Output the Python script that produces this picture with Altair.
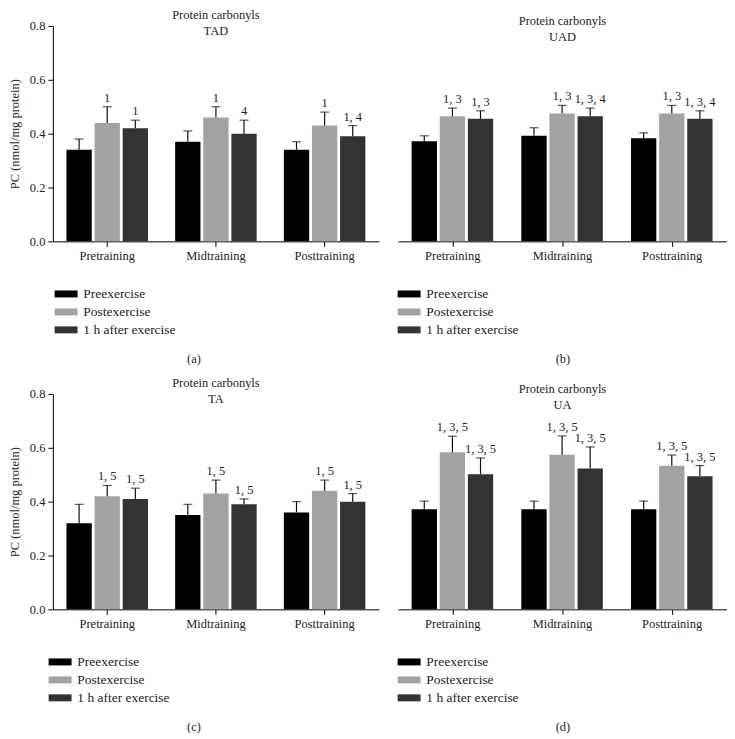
import altair as alt
import pandas as pd

periods = ["Pretraining", "Midtraining", "Posttraining"]
conditions = ["Preexercise", "Postexercise", "1 h after exercise"]
colors = ["#000000", "#a2a2a5", "#333333"]

# Panel (a) TAD
tad_pre = [0.34, 0.37, 0.34]
tad_post = [0.44, 0.46, 0.43]
tad_1h = [0.42, 0.40, 0.39]
tad_pre_err = [0.04, 0.04, 0.03]
tad_post_err = [0.06, 0.04, 0.05]
tad_1h_err = [0.03, 0.05, 0.04]
tad_post_lab = ["1", "1", "1"]
tad_1h_lab = ["1", "4", "1, 4"]

# Panel (b) UAD
uad_pre = [0.372, 0.392, 0.383]
uad_post = [0.465, 0.475, 0.475]
uad_1h = [0.455, 0.465, 0.455]
uad_pre_err = [0.02, 0.03, 0.02]
uad_post_err = [0.03, 0.03, 0.03]
uad_1h_err = [0.03, 0.03, 0.03]
uad_post_lab = ["1, 3", "1, 3", "1, 3"]
uad_1h_lab = ["1, 3", "1, 3, 4", "1, 3, 4"]

# Panel (c) TA
ta_pre = [0.32, 0.35, 0.36]
ta_post = [0.42, 0.43, 0.44]
ta_1h = [0.41, 0.39, 0.40]
ta_pre_err = [0.07, 0.04, 0.04]
ta_post_err = [0.04, 0.05, 0.04]
ta_1h_err = [0.04, 0.02, 0.03]
ta_post_lab = ["1, 5", "1, 5", "1, 5"]
ta_1h_lab = ["1, 5", "1, 5", "1, 5"]

# Panel (d) UA
ua_pre = [0.372, 0.372, 0.372]
ua_post = [0.583, 0.574, 0.533]
ua_1h = [0.502, 0.523, 0.494]
ua_pre_err = [0.03, 0.03, 0.03]
ua_post_err = [0.06, 0.07, 0.04]
ua_1h_err = [0.06, 0.08, 0.04]
ua_post_lab = ["1, 3, 5", "1, 3, 5", "1, 3, 5"]
ua_1h_lab = ["1, 3, 5", "1, 3, 5", "1, 3, 5"]

pre_lab = ["", "", ""]
y_ticks = [0.0, 0.2, 0.4, 0.6, 0.8]

FONT = "Liberation Serif"
INK = "#222222"


def build_df(means, errs, labels):
    rows = []
    for ci, c in enumerate(conditions):
        for pi, p in enumerate(periods):
            m = means[ci][pi]
            e = errs[ci][pi]
            rows.append(dict(period=p, condition=c, mean=m, top=m + e,
                             sig=labels[ci][pi]))
    return pd.DataFrame(rows)


def make_panel(df, subtitle, caption, left, width, legend_x):
    xaxis_kw = dict(title=caption, labelAngle=0, labelFont=FONT, labelFontSize=12.5,
                    labelColor=INK, tickSize=5, tickColor="#000", domainColor="#000",
                    domainWidth=1, labelPadding=3, titleFont=FONT, titleFontSize=12.5,
                    titleFontWeight="normal", titleColor=INK, titlePadding=91,
                    titleAlign="center")
    if left:
        xaxis_kw["titleX"] = 141
    x = alt.X("period:N", sort=periods,
              scale=alt.Scale(paddingInner=0.25, paddingOuter=0.125),
              axis=alt.Axis(**xaxis_kw))
    xo = alt.XOffset("condition:N", sort=conditions,
                     scale=alt.Scale(paddingInner=0.1, paddingOuter=0))
    yscale = alt.Scale(domain=[0, 0.8])
    if left:
        yaxis = alt.Axis(values=y_ticks, format=".1f", title="PC (nmol/mg protein)",
                         grid=False, tickSize=5, tickColor="#000", domainColor="#000",
                         labelFont=FONT, labelFontSize=12.5, labelColor=INK,
                         labelPadding=3, titleFont=FONT, titleFontSize=12.5,
                         titleFontWeight="normal", titleColor=INK, titlePadding=8)
    else:
        yaxis = None
    color = alt.Color("condition:N", sort=conditions,
                      scale=alt.Scale(domain=conditions, range=colors),
                      legend=alt.Legend(orient="none", legendX=legend_x, legendY=262,
                                        title=None, symbolType="M-1,-0.7H3.6V0.7H-1Z",
                                        symbolSize=100, symbolStrokeWidth=0,
                                        labelFont=FONT, labelFontSize=13.5,
                                        labelColor=INK, labelOffset=17, rowPadding=3))
    base = alt.Chart(df)
    bars = base.mark_bar().encode(
        x=x, xOffset=xo, y=alt.Y("mean:Q", scale=yscale, axis=yaxis), color=color)
    rule = base.mark_rule(color="#111", strokeWidth=1.2).encode(
        x=x, xOffset=xo, y=alt.Y("mean:Q", scale=yscale, axis=yaxis), y2="top:Q")
    cap = base.mark_tick(color="#111", thickness=1.2, size=9).encode(
        x=x, xOffset=xo, y=alt.Y("top:Q", scale=yscale, axis=yaxis))
    txt = base.mark_text(font=FONT, fontSize=12.5, baseline="bottom", dy=-2,
                         fill=INK, color=INK).encode(
        x=x, xOffset=xo, y=alt.Y("top:Q", scale=yscale, axis=yaxis), text="sig:N",
        fill=alt.value(INK))
    return alt.layer(bars, rule, cap, txt).properties(
        width=width, height=216,
        title=alt.TitleParams(["Protein carbonyls", subtitle], font=FONT,
                              fontSize=12.5, fontWeight="normal", color=INK,
                              anchor="middle", frame="group", offset=-18,
                              lineHeight=16))


df_a = build_df([tad_pre, tad_post, tad_1h], [tad_pre_err, tad_post_err, tad_1h_err],
                [pre_lab, tad_post_lab, tad_1h_lab])
df_b = build_df([uad_pre, uad_post, uad_1h], [uad_pre_err, uad_post_err, uad_1h_err],
                [pre_lab, uad_post_lab, uad_1h_lab])
df_c = build_df([ta_pre, ta_post, ta_1h], [ta_pre_err, ta_post_err, ta_1h_err],
                [pre_lab, ta_post_lab, ta_1h_lab])
df_d = build_df([ua_pre, ua_post, ua_1h], [ua_pre_err, ua_post_err, ua_1h_err],
                [pre_lab, ua_post_lab, ua_1h_lab])

pa = make_panel(df_a, "TAD", "(a)", True, 327, 0)
pb = make_panel(df_b, "UAD", "(b)", False, 330, -2)
pc = make_panel(df_c, "TA", "(c)", True, 327, -6)
pd_ = make_panel(df_d, "UA", "(d)", False, 330, -2)

row1 = alt.hconcat(pa, pb, spacing=17).resolve_scale(color="independent").resolve_legend(color="independent")
row2 = alt.hconcat(pc, pd_, spacing=17).resolve_scale(color="independent").resolve_legend(color="independent")

chart = alt.vconcat(row1, row2, spacing=12).resolve_scale(
    color="independent").resolve_legend(color="independent").properties(
    padding=0, background="white").configure_view(strokeWidth=0, stroke="transparent")

chart.save("out.html", embed_options={"renderer": "svg", "actions": False})
